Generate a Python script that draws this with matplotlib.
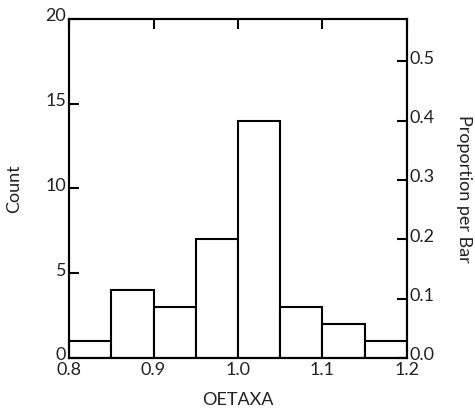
import numpy as np
import matplotlib
matplotlib.use("Agg")
import matplotlib.pyplot as plt
import matplotlib.transforms as mtransforms

plt.rcParams['font.family'] = ['Lato', 'DejaVu Sans']

# histogram bins (left edges) and counts
bin_left = [0.80, 0.85, 0.90, 0.95, 1.00, 1.05, 1.10, 1.15]
bin_width = 0.05
counts = [1, 4, 3, 7, 14, 3, 2, 1]

x_ticks = [0.8, 0.9, 1.0, 1.1, 1.2]
count_ticks = [0, 5, 10, 15, 20]
prop_ticks = [0.0, 0.1, 0.2, 0.3, 0.4, 0.5]

total = sum(counts)
fs = 13
txt = '#222222'

fig = plt.figure(figsize=(4.75, 4.12), dpi=100)
ax = fig.add_axes([0.1453, 0.131, 0.7115, 0.823])

ax.bar(bin_left, counts, width=bin_width, align='edge',
       facecolor='white', edgecolor='black', linewidth=1.5)

ax.set_xlim(0.8, 1.2)
ax.set_ylim(0, 20)
ax.set_xticks(x_ticks)
ax.set_xticklabels(['%.1f' % v for v in x_ticks], fontsize=fs, color=txt)
ax.set_yticks(count_ticks)
ax.set_yticklabels([str(v) for v in count_ticks], fontsize=fs, color=txt)
ax.tick_params(axis='x', direction='in', length=7, width=1.5, top=True, bottom=False, pad=3)
ax.tick_params(axis='y', direction='in', length=7, width=1.5, pad=2)
for s in ax.spines.values():
    s.set_linewidth(1.5)
ax.set_xlabel('OETAXA', fontsize=fs, labelpad=10, color=txt)
ax.set_ylabel('Count', fontsize=fs, labelpad=17, color=txt)

# right axis: proportion per bar
ax2 = ax.twinx()
ax2.set_ylim(0, 20 / total)
ax2.set_yticks(prop_ticks)
ax2.set_yticklabels(['%.1f' % v for v in prop_ticks], fontsize=fs, color=txt)
ax2.tick_params(axis='y', direction='in', length=7, width=1.5, pad=2)
for s in ax2.spines.values():
    s.set_linewidth(1.5)
ax2.set_ylabel('Proportion per Bar', fontsize=fs, rotation=270, labelpad=27, color=txt)

# nudge y tick labels up a little so they clear the x labels
shift = mtransforms.ScaledTranslation(0, 3 / 72, fig.dpi_scale_trans)
for lab in ax.get_yticklabels() + ax2.get_yticklabels():
    lab.set_transform(lab.get_transform() + shift)

fig.savefig('out.png', dpi=100)
